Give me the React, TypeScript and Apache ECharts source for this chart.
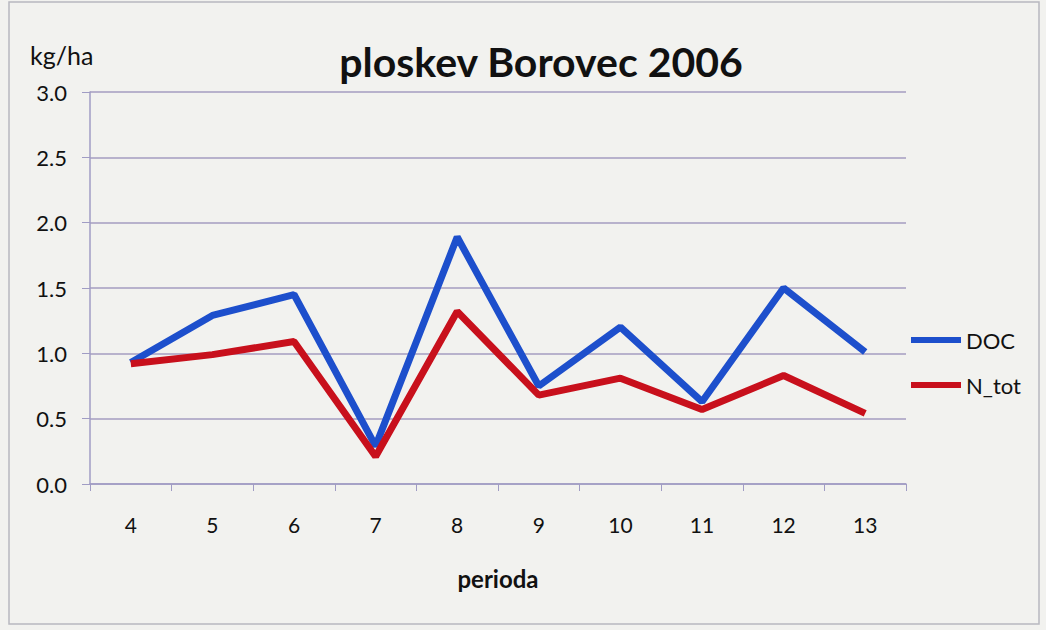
import React, { useEffect, useRef } from "react";
import * as echarts from "echarts";

const categories = ["4", "5", "6", "7", "8", "9", "10", "11", "12", "13"];
const docValues = [0.93, 1.29, 1.45, 0.29, 1.89, 0.75, 1.2, 0.63, 1.5, 1.01];
const ntotValues = [0.92, 0.99, 1.09, 0.21, 1.32, 0.68, 0.81, 0.57, 0.83, 0.54];
const yTicks = { min: 0, max: 3, interval: 0.5 };

const FONT = "Lato, 'Open Sans', sans-serif";

export default function App() {
  const ref = useRef<HTMLDivElement>(null);
  useEffect(() => {
    document.body.style.margin = "0";
    const chart = echarts.init(ref.current!, null, { renderer: "svg" });
    chart.setOption({
      animation: false,
      backgroundColor: "#f2f2ef",
      title: {
        text: "ploskev Borovec 2006",
        left: 536,
        top: 36,
        textAlign: "center",
        textStyle: { fontFamily: FONT, fontWeight: "bold", fontSize: 41, color: "#111" },
      },
      graphic: [
        {
          type: "rect",
          shape: { x: 9, y: 2, width: 1030, height: 622 },
          style: { fill: "none", stroke: "#b8b8c0", lineWidth: 1.5 },
        },
        {
          type: "text",
          left: 30,
          top: 42,
          style: { text: "kg/ha", fontFamily: FONT, fontSize: 25, fill: "#111" },
        },
      ],
      legend: {
        orient: "vertical",
        left: 911,
        top: 329,
        padding: 0,
        itemWidth: 50,
        itemHeight: 6,
        itemGap: 23,
        icon: "rect",
        textStyle: { fontFamily: FONT, fontSize: 22, color: "#111", padding: [0, 0, 0, 0] },
        data: ["DOC", "N_tot"],
      },
      grid: { left: 90, right: 140, top: 92, bottom: 146, containLabel: false },
      xAxis: {
        type: "category",
        data: categories,
        boundaryGap: true,
        name: "perioda",
        nameLocation: "middle",
        nameGap: 82,
        nameTextStyle: { fontFamily: FONT, fontSize: 24, fontWeight: "bold", color: "#111" },
        axisLine: { lineStyle: { color: "#a09cc4", width: 1.5 } },
        axisTick: { show: true, length: 7, lineStyle: { color: "#a09cc4" } },
        axisLabel: { fontFamily: FONT, fontSize: 21, color: "#111", margin: 30 },
      },
      yAxis: {
        type: "value",
        min: yTicks.min,
        max: yTicks.max,
        interval: yTicks.interval,
        axisLine: { show: true, lineStyle: { color: "#a09cc4", width: 1.5 } },
        axisTick: { show: true, length: 8, inside: false, lineStyle: { color: "#a09cc4" } },
        splitLine: { lineStyle: { color: "#a49cc0", width: 1.5 } },
        axisLabel: {
          fontFamily: FONT,
          fontSize: 22,
          color: "#111",
          margin: 23,
          formatter: (v: number) => v.toFixed(1),
        },
      },
      series: [
        {
          name: "DOC",
          type: "line",
          data: docValues,
          symbol: "none",
          lineStyle: { color: "#1d4fcc", width: 7 },
          itemStyle: { color: "#1d4fcc" },
        },
        {
          name: "N_tot",
          type: "line",
          data: ntotValues,
          symbol: "none",
          lineStyle: { color: "#c8101c", width: 7 },
          itemStyle: { color: "#c8101c" },
        },
      ],
    });
    return () => chart.dispose();
  }, []);
  return <div ref={ref} style={{ width: 1046, height: 630 }} />;
}
